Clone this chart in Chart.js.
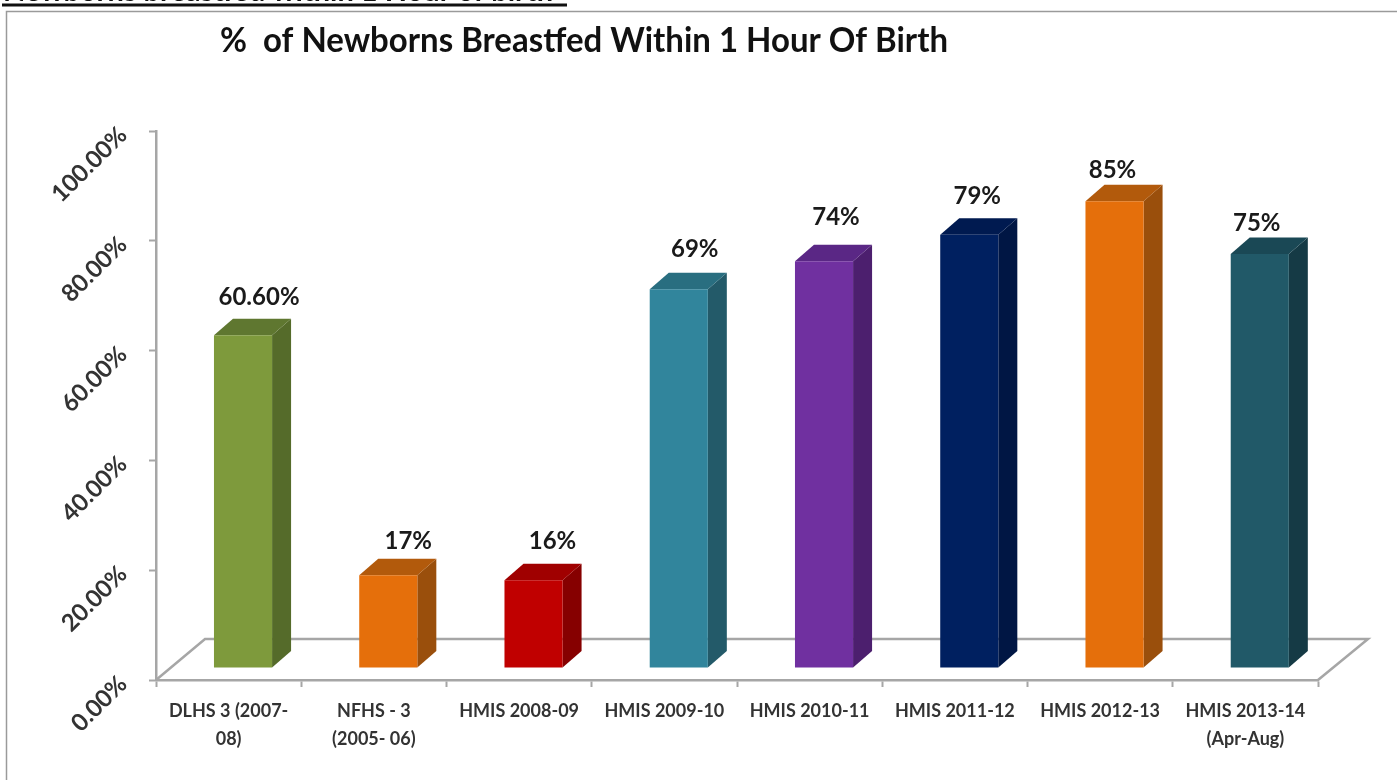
<!DOCTYPE html>
<html>
<head>
<meta charset="utf-8">
<script src="https://cdn.jsdelivr.net/npm/chart.js@4"></script>
<style>
  html, body { margin: 0; background: #fff; }
  canvas { display: block; }
</style>
</head>
<body>
<canvas id="bfChart" width="1397" height="780"></canvas>
<script>
const categories = [['DLHS 3 (2007-', '08)'], ['NFHS - 3', '(2005- 06)'], 'HMIS 2008-09', 'HMIS 2009-10',
    'HMIS 2010-11', 'HMIS 2011-12', 'HMIS 2012-13', ['HMIS 2013-14', '(Apr-Aug)']];
const values = [60.6, 16.9, 16, 69, 74.1, 78.9, 85, 75.4];
const valueLabels = ['60.60%', '17%', '16%', '69%', '74%', '79%', '85%', '75%'];

const frontColors = ['#7E9A3C', '#E56F0B', '#C00000', '#31859C', '#7030A0', '#002060', '#E56F0B', '#215968'];
const sideColors = ['#556B2A', '#9A4F0C', '#860000', '#235A69', '#4C1F6E', '#001644', '#9A4F0C', '#153A45'];
const topColors = ['#5F7730', '#B25A0C', '#A00000', '#296E80', '#5A2785', '#001A50', '#B25A0C', '#1A4855'];

// label nudges from the top-back of each bar, the original labels were hand placed
const labelDx = [16, 20, 19, 16, 12, 8, -2, -3];
const labelDy = [38, 34, 39, 40, 44, 39, 31, 31];

const FONT = 'Lato, sans-serif';
const AXIS_GREY = '#A6A6A6';
// bars stand part way into the floor
const barShiftX = 14.4, barShiftY = -12;
const depthX = 19, depthY = 16.5;
const floorX = 49, floorY = 41;

const scene3d = {
    id: 'scene3d',
    afterLayout(chart) {
        // title is not centred on the canvas in the original
        chart.titleBlock.left = 220;
        chart.titleBlock.right = 948;
    },
    beforeDraw(chart) {
        const { ctx, chartArea: a } = chart;
        ctx.save();
        ctx.fillStyle = '#fff';
        ctx.fillRect(0, 0, chart.width, chart.height);

        // slide frame
        ctx.strokeStyle = '#9A9A9A';
        ctx.lineWidth = 1.5;
        ctx.beginPath();
        ctx.moveTo(6.5, 780);
        ctx.lineTo(6.5, 11.5);
        ctx.lineTo(1397, 11.5);
        ctx.stroke();

        // heading cut off at the top of the picture
        ctx.fillStyle = '#111';
        ctx.font = 'bold 29px ' + FONT;
        ctx.textBaseline = 'alphabetic';
        ctx.textAlign = 'left';
        ctx.fillText('Newborns breastfed within 1 Hour of birth', 3, 0.5);
        ctx.fillRect(2, 3.5, 565, 3);

        // floor
        ctx.strokeStyle = AXIS_GREY;
        ctx.lineWidth = 2.5;
        ctx.beginPath();
        ctx.moveTo(a.left, a.bottom);
        ctx.lineTo(a.left + floorX, a.bottom - floorY);
        ctx.lineTo(a.right + floorX + 1, a.bottom - floorY);
        ctx.lineTo(a.right, a.bottom);
        ctx.stroke();
        ctx.restore();
    },
    beforeDatasetDraw(chart, args) {
        const ctx = chart.ctx;
        ctx.save();
        ctx.translate(barShiftX, barShiftY);
        args.meta.data.forEach((bar, i) => {
            const l = bar.x - bar.width / 2, r = bar.x + bar.width / 2;
            ctx.fillStyle = sideColors[i];
            ctx.beginPath();
            ctx.moveTo(r, bar.y);
            ctx.lineTo(r + depthX, bar.y - depthY);
            ctx.lineTo(r + depthX, bar.base - depthY);
            ctx.lineTo(r, bar.base);
            ctx.closePath();
            ctx.fill();
            ctx.fillStyle = topColors[i];
            ctx.beginPath();
            ctx.moveTo(l, bar.y);
            ctx.lineTo(l + depthX, bar.y - depthY);
            ctx.lineTo(r + depthX, bar.y - depthY);
            ctx.lineTo(r, bar.y);
            ctx.closePath();
            ctx.fill();
        });
    },
    afterDatasetDraw(chart, args) {
        const ctx = chart.ctx;
        ctx.textAlign = 'center';
        ctx.textBaseline = 'middle';
        ctx.font = 'bold 24px ' + FONT;
        ctx.fillStyle = '#1A1A1A';
        args.meta.data.forEach((bar, i) => {
            ctx.fillText(valueLabels[i], bar.x + labelDx[i], bar.y - labelDy[i]);
        });
        ctx.restore();
    }
};

new Chart(document.getElementById('bfChart'), {
    type: 'bar',
    data: {
        labels: categories,
        datasets: [{
            label: '% of Newborns Breastfed Within 1 Hour Of Birth',
            data: values,
            backgroundColor: frontColors,
            barPercentage: 0.4,
            categoryPercentage: 1
        }]
    },
    options: {
        responsive: false,
        animation: false,
        layout: { padding: { right: 79 } },
        plugins: {
            legend: { display: false },
            tooltip: { enabled: false },
            title: {
                display: true,
                text: '%  of Newborns Breastfed Within 1 Hour Of Birth',
                color: '#111',
                font: { family: FONT, size: 35, weight: 'bold', lineHeight: 1 },
                padding: { top: 23, bottom: 73 }
            }
        },
        scales: {
            x: {
                afterFit(scale) { scale.height = 100; },
                border: { color: AXIS_GREY, width: 2.5 },
                grid: { drawOnChartArea: false, color: AXIS_GREY, tickLength: 7, tickWidth: 2 },
                ticks: {
                    color: '#333',
                    font: { family: FONT, size: 18, weight: 'bold', lineHeight: 1.55 },
                    padding: 10,
                    autoSkip: false,
                    maxRotation: 0
                }
            },
            y: {
                min: 0,
                max: 100,
                afterFit(scale) { scale.width = 156; },
                border: { color: AXIS_GREY, width: 2.5 },
                grid: { drawOnChartArea: false, color: AXIS_GREY, tickLength: 7, tickWidth: 2 },
                ticks: {
                    stepSize: 20,
                    color: '#333',
                    font: { family: FONT, size: 24, weight: 'bold' },
                    padding: 26,
                    minRotation: 45,
                    maxRotation: 45,
                    callback: v => v.toFixed(2) + '%'
                }
            }
        }
    },
    plugins: [scene3d]
});
</script>
</body>
</html>
